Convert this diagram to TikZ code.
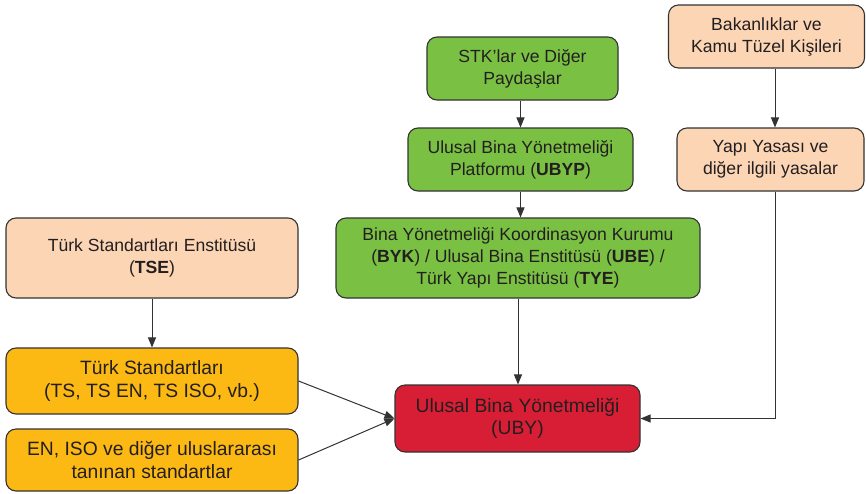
\documentclass[tikz,border=0pt]{standalone}
\usepackage{fontspec}
\setmainfont{Liberation Sans}
\usetikzlibrary{arrows.meta}
\definecolor{peach}{HTML}{FCD5B5}
\definecolor{lgreen}{HTML}{7AC143}
\definecolor{yel}{HTML}{FDB913}
\definecolor{red1}{HTML}{D71E34}
\definecolor{edge}{HTML}{333333}
\definecolor{txt}{HTML}{231F20}
\tikzset{
  box/.style={draw=edge, line width=1.1pt, rounded corners=10pt, align=center,
    inner sep=0pt, text=txt, font=\fontsize{17.6}{22}\selectfont},
  bigtext/.style={font=\fontsize{19.3}{22.5}\selectfont},
  arr/.style={draw=edge, line width=1pt, -{Triangle[length=10pt,width=8pt]}}
}
\begin{document}
\begin{tikzpicture}[x=1pt,y=-1pt]
\useasboundingbox (0,0) rectangle (866,493);
\node[box, fill=lgreen, minimum width=191pt, minimum height=63pt] (stk) at (522.5,68.5) {STK’lar ve Diğer\\Paydaşlar};
\node[box, fill=lgreen, minimum width=225pt, minimum height=63pt] (ubyp) at (520.5,159.5) {Ulusal Bina Yönetmeliği\\Platformu (\textbf{UBYP})};
\node[box, fill=lgreen, minimum width=364pt, minimum height=80pt] (byk) at (518,258) {Bina Yönetmeliği Koordinasyon Kurumu\\(\textbf{BYK}) / Ulusal Bina Enstitüsü (\textbf{UBE}) /\\Türk Yapı Enstitüsü (\textbf{TYE})};
\node[box, fill=peach, minimum width=196pt, minimum height=63pt] (bak) at (766.5,36.5) {Bakanlıklar ve\\Kamu Tüzel Kişileri};
\node[box, fill=peach, minimum width=187pt, minimum height=63pt] (yapi) at (770.5,159.5) {Yapı Yasası ve\\diğer ilgili yasalar};
\node[box, fill=peach, minimum width=292pt, minimum height=80pt] (tse) at (152,258) {Türk Standartları Enstitüsü\\(\textbf{TSE})};
\node[box, bigtext, fill=yel, minimum width=292pt, minimum height=66pt] (tstd) at (152,381) {Türk Standartları\\(TS, TS EN, TS ISO, vb.)};
\node[box, bigtext, fill=yel, minimum width=292pt, minimum height=62pt] (en) at (152,460) {EN, ISO ve diğer uluslararası\\tanınan standartlar};
\node[box, bigtext, fill=red1, minimum width=245pt, minimum height=67pt] (uby) at (517.5,418.5) {Ulusal Bina Yönetmeliği\\(UBY)};
\coordinate (ax) at (775,0);
\draw[arr] (stk.south -| ubyp.north) -- (ubyp.north);
\draw[arr] (ubyp.south) -- (ubyp.south |- byk.north);
\draw[arr] (byk.south) -- (byk.south |- uby.north);
\draw[arr] (bak.south -| ax) -- (yapi.north -| ax);
\draw[arr] (yapi.south -| ax) |- (uby.east);
\draw[arr] (tse.south) -- (tstd.north);
\draw[arr] (tstd.east) -- (uby.west);
\draw[arr] (en.east) -- (uby.west);
\end{tikzpicture}
\end{document}
